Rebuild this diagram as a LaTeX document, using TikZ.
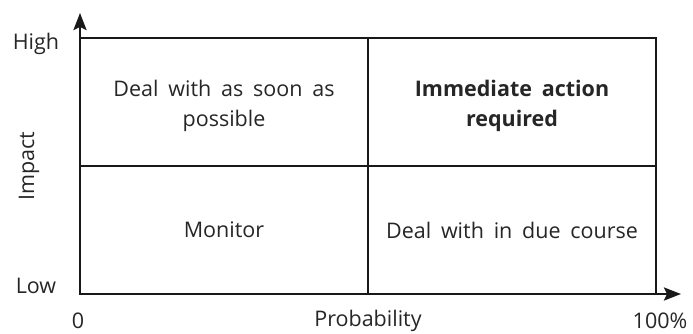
\documentclass[tikz,border=0pt]{standalone}
\usepackage{fontspec}
\setmainfont{Open Sans}[WordSpace=1.75]
\usetikzlibrary{positioning,arrows.meta}

\tikzset{
  cell/.style={draw=black!90, line width=2.6pt, minimum width=288pt, minimum height=128pt,
    inner sep=0pt, outer sep=0pt},
  celltext/.style={align=center, text=black!85, font=\fontsize{21.5}{30}\selectfont},
  axislabel/.style={font=\fontsize{21.5}{26}\selectfont, text=black!85},
  axis/.style={draw=black!90, line width=2.6pt, -{Stealth[length=17pt,width=13pt,inset=3pt]}}
}

\begin{document}
\begin{tikzpicture}[x=1pt,y=-1pt]
        \useasboundingbox (0,0) rectangle (693,334);
        % Quadrants
        \node[cell] (ul) at (224,102) {};
        \node[cell] (ur) at (512,102) {};
        \node[cell] (ll) at (224,230) {};
        \node[cell] (lr) at (512,230) {};

        % Quadrant texts
        \node[celltext] (ultext) at ([yshift=-4pt]ul.center) {Deal with as soon as\\possible};
        \node[celltext] (urtext) at ([yshift=-4pt]ur.center) {\textbf{Immediate action}\\\textbf{required}};
        \node[celltext] (lltext) at (ll.center) {Monitor};
        \node[celltext] (lrtext) at (lr.center) {Deal with in due course};

        % Axes
        \coordinate (top) at (80,13);
        \coordinate (right) at (681,294);
        \draw[axis] (ll.south west) -- (top);
        \draw[axis] (ll.south west) -- (right);

        % Labels
        \node[axislabel] (high) at (36,44) {High};
        \node[axislabel] (low) at (36,286) {Low};
        \node[axislabel, rotate=90] (impact) at (29,166) {Impact};
        \node[axislabel] (zero) at (78,321) {0};
        \node[axislabel] (prob) at (368,321) {Probability};
        \node[axislabel] (full) at (660,321) {100\%};
\end{tikzpicture}
\end{document}
